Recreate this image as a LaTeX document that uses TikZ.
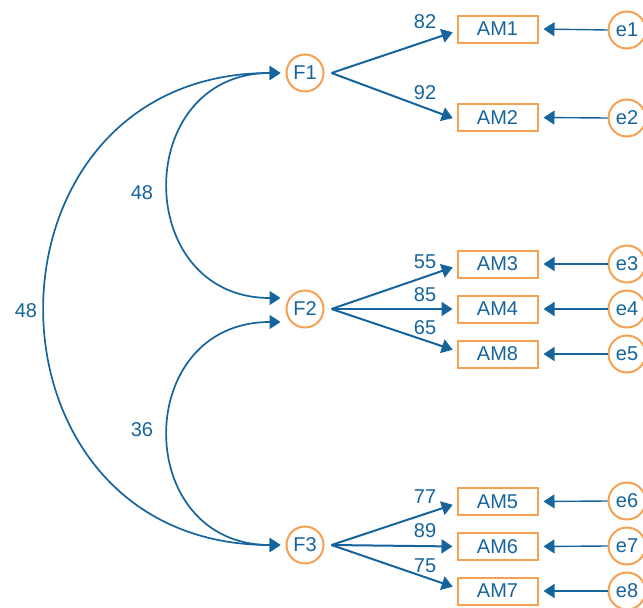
\documentclass[tikz,border=0pt]{standalone}
\usepackage{fontspec}
\setmainfont{Liberation Sans}
\usetikzlibrary{arrows.meta}
\definecolor{pathblue}{RGB}{22,100,156}
\definecolor{boxorange}{RGB}{245,160,82}
\begin{document}
\begin{tikzpicture}[x=1pt,y=-1pt,
  font=\fontsize{20}{24}\selectfont,
  every node/.style={text=pathblue},
  latent/.style={circle,draw=boxorange,line width=2pt,minimum size=37pt,inner sep=0pt},
  manifest/.style={rectangle,draw=boxorange,line width=2pt,minimum width=80pt,minimum height=27pt,inner sep=0pt},
  errnode/.style={circle,draw=boxorange,line width=2pt,minimum size=37pt,inner sep=0pt},
  tip/.style={-{Triangle[length=11pt,width=14pt]}},
  loading/.style={draw=pathblue,line width=2pt,tip,shorten >=4pt},
  errpath/.style={draw=pathblue,line width=1.4pt,tip,shorten >=5pt},
  covpath/.style={draw=pathblue,line width=1.7pt,{Triangle[length=11pt,width=14pt]}-{Triangle[length=11pt,width=14pt]}},
  coeff/.style={inner sep=0pt}]
\useasboundingbox (0,0) rectangle (643,608);

% latent factors
\node[latent] (F1) at (305,73) {F1};
\node[latent] (F2) at (305,309) {F2};
\node[latent] (F3) at (305,545) {F3};

% indicators
\node[manifest] (AM1) at (497.5,29) {AM1};
\node[manifest] (AM2) at (497.5,117.5) {AM2};
\node[manifest] (AM3) at (497.5,264) {AM3};
\node[manifest] (AM4) at (497.5,309) {AM4};
\node[manifest] (AM8) at (497.5,354) {AM8};
\node[manifest] (AM5) at (497.5,501.5) {AM5};
\node[manifest] (AM6) at (497.5,546.5) {AM6};
\node[manifest] (AM7) at (497.5,591) {AM7};

% error terms
\node[errnode] (e1) at (627,30) {e1};
\node[errnode] (e2) at (627,118) {e2};
\node[errnode] (e3) at (627,264) {e3};
\node[errnode] (e4) at (627,309) {e4};
\node[errnode] (e5) at (627,354) {e5};
\node[errnode] (e6) at (627,501) {e6};
\node[errnode] (e7) at (627,546) {e7};
\node[errnode] (e8) at (627,591) {e8};

% factor loadings
\coordinate (s1) at ([xshift=7pt]F1.east);
\coordinate (s2) at ([xshift=7pt]F2.east);
\coordinate (s3) at ([xshift=7pt]F3.east);
\draw[loading] (s1) -- ([yshift=-2pt]AM1.west);
\draw[loading] (s1) -- ([yshift=-2pt]AM2.west);
\draw[loading] (s2) -- ([yshift=-2pt]AM3.west);
\draw[loading] (s2) -- (AM4.west);
\draw[loading] (s2) -- ([yshift=3pt]AM8.west);
\draw[loading] (s3) -- ([yshift=-2pt]AM5.west);
\draw[loading] (s3) -- (AM6.west);
\draw[loading] (s3) -- ([yshift=3pt]AM7.west);

\node[coeff] (c82) at (425,22) {82};
\node[coeff] (c92) at (425,93) {92};
\node[coeff] (c55) at (425,262) {55};
\node[coeff] (c85) at (425,295) {85};
\node[coeff] (c65) at (425,328) {65};
\node[coeff] (c77) at (425,497) {77};
\node[coeff] (c89) at (425,531) {89};
\node[coeff] (c75) at (425,566) {75};

% error paths
\draw[errpath] (e1.west) -- (AM1.east);
\draw[errpath] (e2.west) -- (AM2.east);
\draw[errpath] (e3.west) -- (AM3.east);
\draw[errpath] (e4.west) -- (AM4.east);
\draw[errpath] (e5.west) -- (AM8.east);
\draw[errpath] (e6.west) -- (AM5.east);
\draw[errpath] (e7.west) -- (AM6.east);
\draw[errpath] (e8.west) -- (AM7.east);

% factor covariances
\coordinate (t1) at ([xshift=-5pt]F1.west);
\coordinate (t2a) at ([xshift=-5pt,yshift=11pt]F2.west);
\coordinate (t2b) at ([xshift=-5pt,yshift=-13pt]F2.west);
\coordinate (t3) at ([xshift=-5pt]F3.west);
\draw[covpath] (t1) .. controls +(-149,0) and +(-149,0) .. (t2a);
\draw[covpath] (t2b) .. controls +(-149,0) and +(-149,0) .. (t3);
\draw[covpath] (t1) .. controls +(-313,0) and +(-313,0) .. (t3);

\node[coeff] (r12) at (142,193) {48};
\node[coeff] (r23) at (142,430) {36};
\node[coeff] (r13) at (26,311) {48};
\end{tikzpicture}
\end{document}
